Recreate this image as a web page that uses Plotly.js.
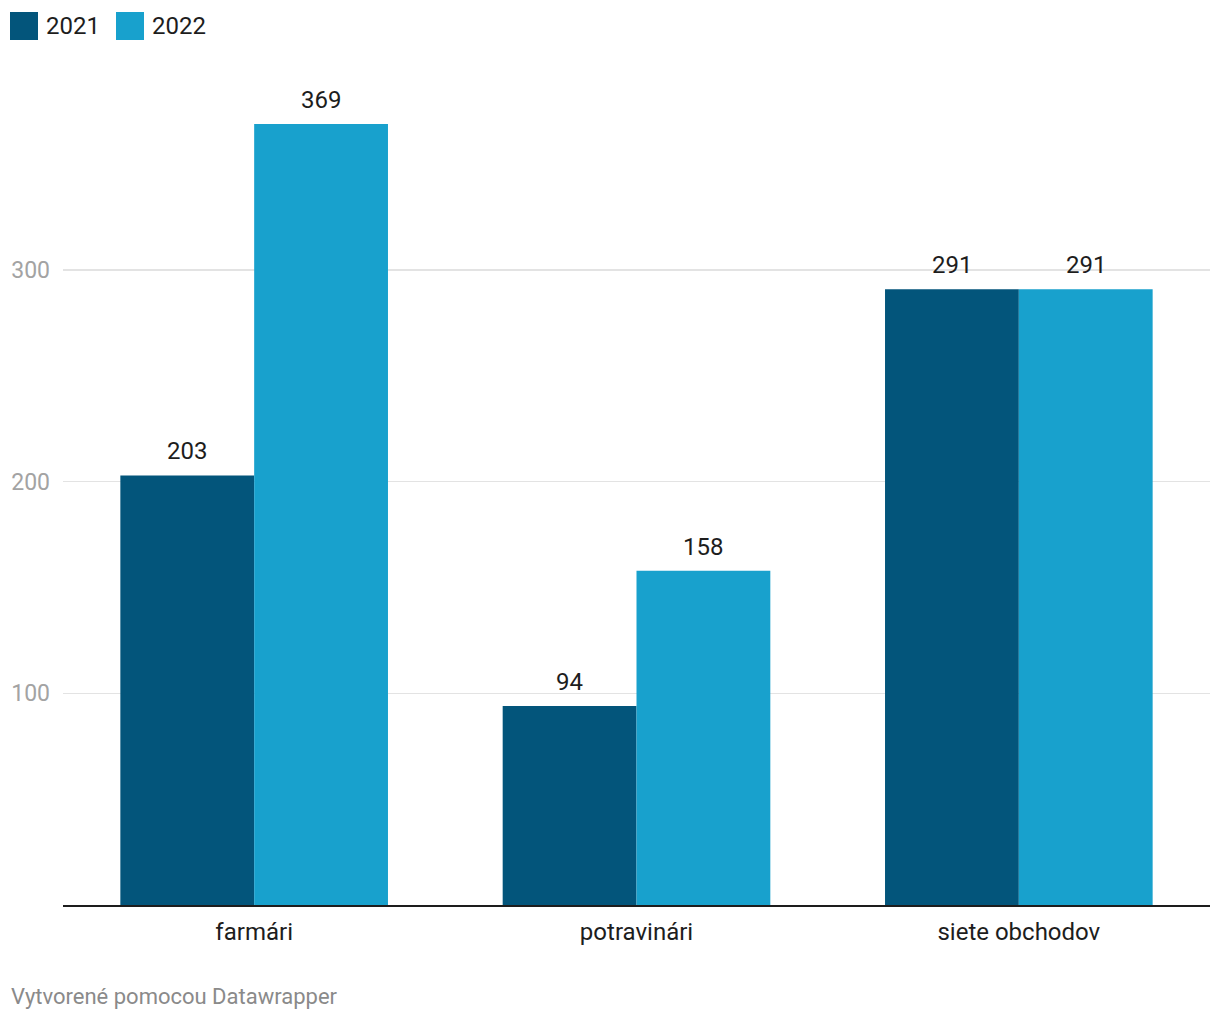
<!DOCTYPE html>
<html>
<head>
<meta charset="utf-8">
<script src="https://cdn.plot.ly/plotly-3.0.1.min.js"></script>
<style>
html,body{margin:0;padding:0;background:#fff;}
#chart{width:1220px;height:1020px;}
</style>
</head>
<body>
<div id="chart"></div>
<script>
const categories = ["farmári", "potravinári", "siete obchodov"];
const seriesNames = ["2021", "2022"];
const values2021 = [203, 94, 291];
const values2022 = [369, 158, 291];
const yTickVals = [100, 200, 300];
const yTickText = ["100", "200", "300"];
const footerText = "Vytvorené pomocou Datawrapper";

const colors = ["#03557b", "#18a1cd"];
const W = 1220, H = 1020;
const M = {l: 63, r: 10, t: 57, b: 115};
const plotW = W - M.l - M.r, plotH = H - M.t - M.b;
const px2x = p => (p - M.l) / plotW;
const py2y = p => (H - M.b - p) / plotH;
const FONT = "Roboto, 'Noto Sans', sans-serif";

const seriesVals = [values2021, values2022];
const traces = seriesVals.map((vals, i) => ({
  type: "bar",
  x: categories,
  y: vals,
  name: seriesNames[i],
  marker: {color: colors[i], line: {width: 0}},
  hoverinfo: "none",
  showlegend: false
}));

const barPx = plotW / categories.length * 0.7 / 2;
const annotations = [];
seriesVals.forEach((vals, i) => {
  vals.forEach((v, j) => {
    annotations.push({
      x: categories[j], y: v, xref: "x", yref: "y",
      text: String(v), showarrow: false,
      xanchor: "center", yanchor: "bottom",
      xshift: (i === 0 ? -1 : 1) * barPx / 2,
      yshift: 8,
      font: {family: FONT, size: 24, color: "#1d1d1d"}
    });
  });
});

// custom legend
const shapes = [];
const legendX = [10, 116];
seriesNames.forEach((n, i) => {
  shapes.push({
    type: "rect", xref: "paper", yref: "paper",
    x0: px2x(legendX[i]), x1: px2x(legendX[i] + 28),
    y0: py2y(40), y1: py2y(12),
    fillcolor: colors[i], line: {width: 0}
  });
  annotations.push({
    xref: "paper", yref: "paper",
    x: px2x(legendX[i] + 34), y: py2y(26),
    xanchor: "left", yanchor: "middle",
    text: n, showarrow: false,
    font: {family: FONT, size: 24, color: "#1d1d1d"}
  });
});

annotations.push({
  xref: "paper", yref: "paper",
  x: px2x(9), y: py2y(997),
  xanchor: "left", yanchor: "middle",
  text: footerText, showarrow: false,
  font: {family: FONT, size: 22, color: "#8a8a8a"}
});

const layout = {
  width: W, height: H,
  margin: M,
  paper_bgcolor: "#fff", plot_bgcolor: "#fff",
  barmode: "group",
  bargap: 0.3, bargroupgap: 0,
  showlegend: false,
  font: {family: FONT},
  xaxis: {
    type: "category",
    showgrid: false, zeroline: false,
    showline: true, linecolor: "#1d1d1d", linewidth: 2,
    ticks: "", ticklabelstandoff: 4,
    tickfont: {family: FONT, size: 24, color: "#1d1d1d"},
    fixedrange: true
  },
  yaxis: {
    range: [0, 400.7],
    tickvals: yTickVals, ticktext: yTickText,
    showgrid: true, gridcolor: "#e3e3e3", gridwidth: 1.5,
    zeroline: false, showline: false, ticks: "",
    ticklabelstandoff: 12,
    tickfont: {family: FONT, size: 23, color: "#a3a3a3"},
    fixedrange: true
  },
  shapes: shapes,
  annotations: annotations
};

Plotly.newPlot("chart", traces, layout, {displayModeBar: false, staticPlot: true});
</script>
</body>
</html>
